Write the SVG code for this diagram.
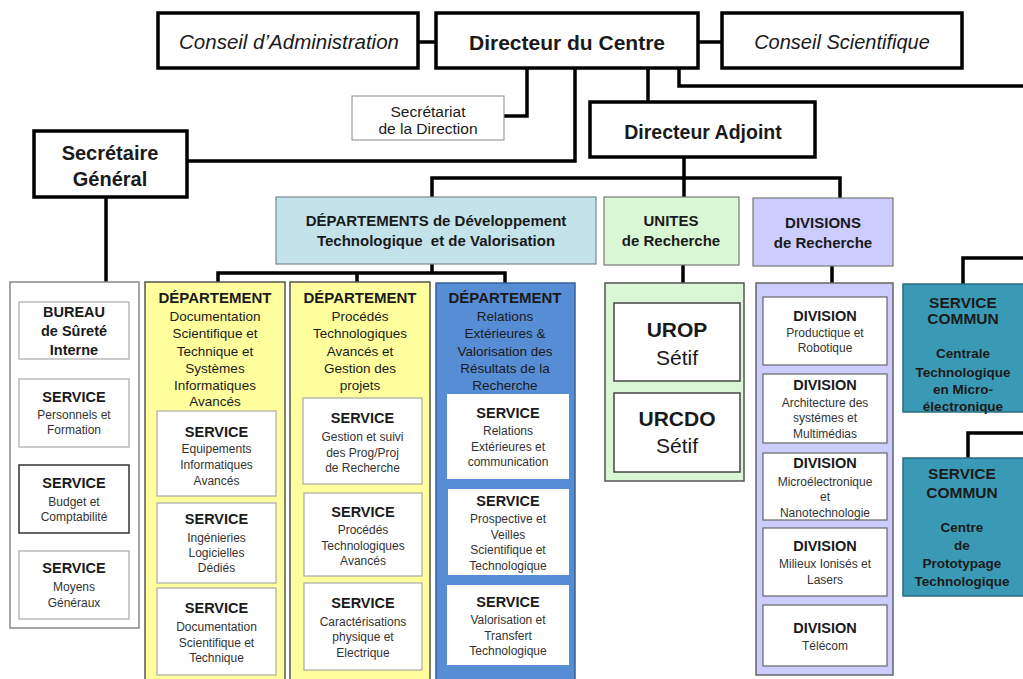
<svg xmlns="http://www.w3.org/2000/svg" width="1023" height="679" viewBox="0 0 1023 679">
<style>
text{font-family:"Liberation Sans",Arial,sans-serif;text-anchor:middle;fill:#1a1a1a}
.bd{font-weight:bold}
.it{font-style:italic}
.top{fill:#fff;stroke:#000;stroke-width:3.5}
.conn{fill:none;stroke:#000;stroke-width:3.5}
.f21{font-size:21px}.f20{font-size:20px}.f195{font-size:19.5px}
.f15{font-size:15px}.f145{font-size:14.5px}.f135{font-size:13.5px}.f12{font-size:12px;fill:#333}
.f155{font-size:15.5px}.fu{font-size:21px}
.wbox{fill:#fff;stroke:#a8a8a8;stroke-width:1.2}
.dbox{fill:#fff;stroke:#444;stroke-width:1.5}
.yel{fill:#ffff9e;stroke:#555;stroke-width:1.5}
.blue{fill:#578dd5;stroke:#3a5f93;stroke-width:1.5}
.teal{fill:#3a9ab6;stroke:#2a6c80;stroke-width:1.5}
.lav{fill:#ccccff;stroke:#666;stroke-width:1.5}
.grn{fill:#d9f7d4;stroke:#555;stroke-width:1.5}
.lblue{fill:#c3e2ea;stroke:#7a8a8e;stroke-width:1.2}
.divb{fill:#fff;stroke:#666;stroke-width:1.2}
</style>
<rect width="1023" height="679" fill="#fff"/>

<g id="connectors">
<path class="conn" d="M418 42H436M698 42H722"/>
<path class="conn" d="M679 68V86H1023"/>
<path class="conn" d="M527 68V116H504"/>
<path class="conn" d="M575 68V161H187"/>
<path class="conn" d="M648 68V102"/>
<path class="conn" d="M684 157V178M432 197V178H840V198M684 178V197"/>
<path class="conn" d="M106 197V282"/>
<path class="conn" d="M432 264V273M218 283V273H505V283M357 273V283"/>
<path class="conn" d="M683 265V283"/>
<path class="conn" d="M832 266V283"/>
<path class="conn" d="M963 284V258H1023"/>
<path class="conn" d="M968 458V433H1023"/>
</g>

<g id="conseil-admin">
<rect class="top" x="158" y="13" width="260" height="55"/>
<text class="it" x="289" y="49" font-size="20.5">Conseil d’Administration</text>
</g>
<g id="directeur-centre">
<rect class="top" x="436" y="13" width="262" height="55"/>
<text class="bd f21" x="567" y="50">Directeur du Centre</text>
</g>
<g id="conseil-scientifique">
<rect class="top" x="722" y="13" width="240" height="55"/>
<text class="it f20" x="842" y="49">Conseil Scientifique</text>
</g>
<g id="secretariat">
<rect x="352" y="96" width="152" height="44" fill="#fff" stroke="#888" stroke-width="1"/>
<text x="428" y="117" font-size="15.5" fill="#333">Secrétariat</text>
<text x="428" y="134" font-size="15.5" fill="#333">de la Direction</text>
</g>
<g id="directeur-adjoint">
<rect class="top" x="590" y="102" width="225" height="55"/>
<text class="bd f195" x="703" y="139">Directeur Adjoint</text>
</g>
<g id="secretaire-general">
<rect class="top" x="34" y="131" width="153" height="66"/>
<text class="bd f20" x="110" y="160">Secrétaire</text>
<text class="bd f20" x="110" y="186">Général</text>
</g>

<g id="departements">
<rect class="lblue" x="276" y="197" width="320" height="67"/>
<text class="bd f15" x="436" y="225.5">DÉPARTEMENTS de Développement</text>
<text class="bd f15" x="436" y="245.5" xml:space="preserve">Technologique  et de Valorisation</text>
</g>
<g id="unites">
<rect x="604" y="197" width="135" height="68" fill="#d9f7d4" stroke="#777" stroke-width="1.2"/>
<text class="bd f15" x="671" y="225.5">UNITES</text>
<text class="bd f15" x="671" y="245.5">de Recherche</text>
</g>
<g id="divisions">
<rect x="753" y="198" width="140" height="68" fill="#ccccff" stroke="#777" stroke-width="1.2"/>
<text class="bd f15" x="823" y="228">DIVISIONS</text>
<text class="bd f15" x="823" y="248">de Recherche</text>
</g>

<g id="sg-column">
<rect x="10" y="282" width="129" height="346" fill="#fff" stroke="#888" stroke-width="1.5"/>
<g id="bureau-surete">
<rect class="wbox" x="19" y="302" width="110" height="57"/>
<text class="bd f145" x="74" y="317">BUREAU</text>
<text class="bd f145" x="74" y="336">de Sûreté</text>
<text class="bd f145" x="74" y="355">Interne</text>
</g>
<g id="service-personnels">
<rect class="wbox" x="19" y="379" width="110" height="68"/>
<text class="bd f145" x="74" y="402">SERVICE</text>
<text class="f12" x="74" y="418.5">Personnels et</text>
<text class="f12" x="74" y="433.5">Formation</text>
</g>
<g id="service-budget">
<rect x="19" y="465" width="110" height="68" fill="#fff" stroke="#333" stroke-width="1.5"/>
<text class="bd f145" x="74" y="488">SERVICE</text>
<text class="f12" x="74" y="505.5">Budget et</text>
<text class="f12" x="74" y="520.5">Comptabilité</text>
</g>
<g id="service-moyens">
<rect class="wbox" x="19" y="551" width="110" height="68"/>
<text class="bd f145" x="74" y="573">SERVICE</text>
<text class="f12" x="74" y="590.5">Moyens</text>
<text class="f12" x="74" y="606.5">Généraux</text>
</g>
</g>

<g id="dept-documentation">
<rect class="yel" x="145" y="282" width="140" height="405"/>
<text class="bd f15" x="215" y="302.5">DÉPARTEMENT</text>
<text class="f135" x="215" y="320.5" fill="#333">Documentation</text>
<text class="f135" x="215" y="338" fill="#333">Scientifique et</text>
<text class="f135" x="215" y="356" fill="#333">Technique et</text>
<text class="f135" x="215" y="373" fill="#333">Systèmes</text>
<text class="f135" x="215" y="390" fill="#333">Informatiques</text>
<text class="f135" x="215" y="406" fill="#333">Avancés</text>
<g id="service-equipements">
<rect class="wbox" x="157" y="411" width="119" height="85"/>
<text class="bd f145" x="216.5" y="437">SERVICE</text>
<text class="f12" x="216.5" y="452.5">Equipements</text>
<text class="f12" x="216.5" y="468.5">Informatiques</text>
<text class="f12" x="216.5" y="484.5">Avancés</text>
</g>
<g id="service-ingenieries">
<rect class="wbox" x="157" y="503" width="119" height="80"/>
<text class="bd f145" x="216.5" y="524">SERVICE</text>
<text class="f12" x="216.5" y="541.5">Ingénieries</text>
<text class="f12" x="216.5" y="556.5">Logicielles</text>
<text class="f12" x="216.5" y="571.5">Dédiés</text>
</g>
<g id="service-documentation">
<rect class="wbox" x="157" y="588" width="119" height="87"/>
<text class="bd f145" x="216.5" y="613">SERVICE</text>
<text class="f12" x="216.5" y="630.5">Documentation</text>
<text class="f12" x="216.5" y="646.5">Scientifique et</text>
<text class="f12" x="216.5" y="661.5">Technique</text>
</g>
</g>

<g id="dept-procedes">
<rect class="yel" x="290" y="282" width="140" height="405"/>
<text class="bd f15" x="360" y="302.5">DÉPARTEMENT</text>
<text class="f135" x="360" y="320.5" fill="#333">Procédés</text>
<text class="f135" x="360" y="338" fill="#333">Technologiques</text>
<text class="f135" x="360" y="356" fill="#333">Avancés et</text>
<text class="f135" x="360" y="373" fill="#333">Gestion des</text>
<text class="f135" x="360" y="390" fill="#333">projets</text>
<g id="service-gestion">
<rect class="wbox" x="303" y="398" width="119" height="86"/>
<text class="bd f145" x="362.5" y="423">SERVICE</text>
<text class="f12" x="362.5" y="441">Gestion et suivi</text>
<text class="f12" x="362.5" y="456.5">des Prog/Proj</text>
<text class="f12" x="362.5" y="471.5">de Recherche</text>
</g>
<g id="service-procedes">
<rect class="wbox" x="304" y="493" width="118" height="83"/>
<text class="bd f145" x="363" y="516.5">SERVICE</text>
<text class="f12" x="363" y="533.5">Procédés</text>
<text class="f12" x="363" y="549.5">Technologiques</text>
<text class="f12" x="363" y="564.5">Avancés</text>
</g>
<g id="service-caracterisations">
<rect class="wbox" x="304" y="583" width="118" height="87"/>
<text class="bd f145" x="363" y="608">SERVICE</text>
<text class="f12" x="363" y="625.5">Caractérisations</text>
<text class="f12" x="363" y="641">physique et</text>
<text class="f12" x="363" y="656.5">Electrique</text>
</g>
</g>

<g id="dept-relations">
<rect class="blue" x="436" y="283" width="139" height="404"/>
<text class="bd f15" x="505" y="302.5">DÉPARTEMENT</text>
<text class="f135" x="505" y="321" fill="#222">Relations</text>
<text class="f135" x="505" y="338" fill="#222">Extérieures &amp;</text>
<text class="f135" x="505" y="356" fill="#222">Valorisation des</text>
<text class="f135" x="505" y="373" fill="#222">Résultats de la</text>
<text class="f135" x="505" y="389.5" fill="#222">Recherche</text>
<g id="service-relations">
<rect x="447" y="394" width="122" height="85" fill="#fff"/>
<text class="bd f145" x="508" y="417.5">SERVICE</text>
<text class="f12" x="508" y="434.5">Relations</text>
<text class="f12" x="508" y="450.5">Extérieures et</text>
<text class="f12" x="508" y="466">communication</text>
</g>
<g id="service-prospective">
<rect x="448" y="489" width="121" height="86" fill="#fff"/>
<text class="bd f145" x="508" y="506">SERVICE</text>
<text class="f12" x="508" y="523">Prospective et</text>
<text class="f12" x="508" y="538.5">Veilles</text>
<text class="f12" x="508" y="553.5">Scientifique et</text>
<text class="f12" x="508" y="569.5">Technologique</text>
</g>
<g id="service-valorisation">
<rect x="447" y="585" width="122" height="80" fill="#fff"/>
<text class="bd f145" x="508" y="607">SERVICE</text>
<text class="f12" x="508" y="624">Valorisation et</text>
<text class="f12" x="508" y="639.5">Transfert</text>
<text class="f12" x="508" y="654.5">Technologique</text>
</g>
</g>

<g id="unites-list">
<rect class="grn" x="605" y="283" width="139" height="198"/>
<g id="urop">
<rect class="dbox" x="614" y="303" width="126" height="78"/>
<text class="bd fu" x="677" y="336.5">UROP</text>
<text class="fu" x="677" y="364.5">Sétif</text>
</g>
<g id="urcdo">
<rect class="dbox" x="614" y="393" width="126" height="79"/>
<text class="bd fu" x="677" y="426">URCDO</text>
<text class="fu" x="677" y="453">Sétif</text>
</g>
</g>

<g id="divisions-list">
<rect class="lav" x="756" y="283" width="137" height="392"/>
<g id="div-productique">
<rect class="divb" x="763" y="297" width="124" height="68"/>
<text class="bd f145" x="825" y="320.5">DIVISION</text>
<text class="f12" x="825" y="337">Productique et</text>
<text class="f12" x="825" y="351.5">Robotique</text>
</g>
<g id="div-architecture">
<rect class="divb" x="763" y="374" width="124" height="69"/>
<text class="bd f145" x="825" y="390">DIVISION</text>
<text class="f12" x="825" y="406.5">Architecture des</text>
<text class="f12" x="825" y="422">systémes et</text>
<text class="f12" x="825" y="437.5">Multimédias</text>
</g>
<g id="div-micro">
<rect class="divb" x="763" y="453" width="124" height="67"/>
<text class="bd f145" x="825" y="468">DIVISION</text>
<text class="f12" x="825" y="486">Microélectronique</text>
<text class="f12" x="825" y="501">et</text>
<text class="f12" x="825" y="516.5">Nanotechnologie</text>
</g>
<g id="div-milieux">
<rect class="divb" x="763" y="528" width="124" height="68"/>
<text class="bd f145" x="825" y="551">DIVISION</text>
<text class="f12" x="825" y="567.5">Milieux Ionisés et</text>
<text class="f12" x="825" y="583.5">Lasers</text>
</g>
<g id="div-telecom">
<rect class="divb" x="763" y="605" width="124" height="61"/>
<text class="bd f145" x="825" y="633">DIVISION</text>
<text class="f12" x="825" y="649.5">Télécom</text>
</g>
</g>

<g id="service-commun-centrale">
<rect class="teal" x="903" y="284" width="130" height="128"/>
<text class="bd f155" x="963" y="307.5">SERVICE</text>
<text class="bd f155" x="963" y="324">COMMUN</text>
<text class="bd f135" x="963" y="358">Centrale</text>
<text class="bd f135" x="963" y="377">Technologique</text>
<text class="bd f135" x="963" y="394">en Micro-</text>
<text class="bd f135" x="963" y="411">électronique</text>
</g>
<g id="service-commun-prototypage">
<rect class="teal" x="903" y="458" width="130" height="138"/>
<text class="bd f155" x="962" y="478.5">SERVICE</text>
<text class="bd f155" x="962" y="497.5">COMMUN</text>
<text class="bd f135" x="962" y="532">Centre</text>
<text class="bd f135" x="962" y="550">de</text>
<text class="bd f135" x="962" y="568">Prototypage</text>
<text class="bd f135" x="962" y="586">Technologique</text>
</g>
</svg>
